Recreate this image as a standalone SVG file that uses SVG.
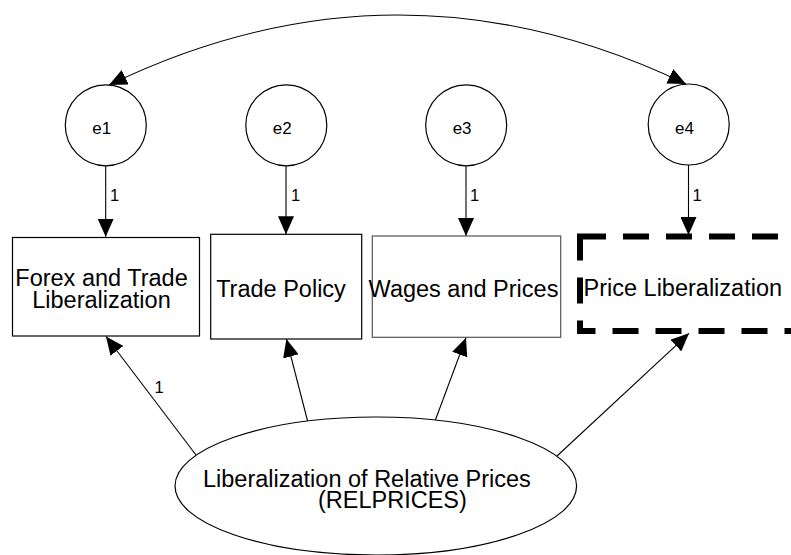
<svg xmlns="http://www.w3.org/2000/svg" width="791" height="555" viewBox="0 0 791 555">
<style>
.t{font-family:"Liberation Sans",Arial,sans-serif;fill:#000}
.box{fill:#fff;stroke:#000;stroke-width:1.2}
.circ{fill:#fff;stroke:#000;stroke-width:1.2}
.c{fill:none;stroke:#000;stroke-width:1.1}
</style>
<defs>
<marker id="ah" markerUnits="userSpaceOnUse" markerWidth="18" markerHeight="16" refX="18" refY="8" orient="auto-start-reverse" viewBox="0 0 18 16">
<path d="M0,0 L18,8 L0,16 z" fill="#000"/>
</marker>
</defs>
<rect width="791" height="555" fill="#fff"/>
<g id="connectors">
<path class="c" d="M109,85 Q397.5,-54.5 686,84" marker-start="url(#ah)" marker-end="url(#ah)"/>
<line class="c" x1="105.7" y1="166" x2="105.7" y2="236.7" marker-end="url(#ah)"/>
<line class="c" x1="286" y1="166" x2="286" y2="234.3" marker-end="url(#ah)"/>
<line class="c" x1="466" y1="166" x2="466" y2="236" marker-end="url(#ah)"/>
<line class="c" x1="688.5" y1="165" x2="688.5" y2="235" marker-end="url(#ah)"/>
<line class="c" x1="196" y1="455" x2="106" y2="336.5" marker-end="url(#ah)"/>
<line class="c" x1="307.6" y1="421" x2="286.4" y2="339" marker-end="url(#ah)"/>
<line class="c" x1="435.4" y1="420" x2="466" y2="337.7" marker-end="url(#ah)"/>
<line class="c" x1="557" y1="456" x2="689" y2="333.3" marker-end="url(#ah)"/>
<text class="t" x="114.7" y="200.7" font-size="16.5" text-anchor="middle">1</text>
<text class="t" x="295.5" y="200.7" font-size="16.5" text-anchor="middle">1</text>
<text class="t" x="474.7" y="200.7" font-size="16.5" text-anchor="middle">1</text>
<text class="t" x="697" y="200.7" font-size="16.5" text-anchor="middle">1</text>
<text class="t" x="159" y="393" font-size="16.5" text-anchor="middle">1</text>
</g>
<g id="e1">
<circle class="circ" cx="105.8" cy="125.3" r="40.5"/>
<text class="t" x="101.7" y="134" font-size="17" text-anchor="middle">e1</text>
</g>
<g id="e2">
<circle class="circ" cx="286.3" cy="125.3" r="40.5"/>
<text class="t" x="282.2" y="134" font-size="17" text-anchor="middle">e2</text>
</g>
<g id="e3">
<circle class="circ" cx="466.2" cy="125.3" r="40.5"/>
<text class="t" x="462.1" y="134" font-size="17" text-anchor="middle">e3</text>
</g>
<g id="e4">
<circle class="circ" cx="688.7" cy="124.5" r="40.5"/>
<text class="t" x="684.4" y="133.5" font-size="17" text-anchor="middle">e4</text>
</g>
<g id="forex">
<rect class="box" x="12.5" y="237.5" width="187" height="98.5"/>
<text class="t" font-size="23.5" text-anchor="middle"><tspan x="101.5" y="286">Forex and Trade</tspan><tspan x="101.5" y="307.7">Liberalization</tspan></text>
</g>
<g id="trade">
<rect class="box" x="210.7" y="234.3" width="151" height="104.7"/>
<text class="t" x="281" y="296.7" font-size="23.5" text-anchor="middle">Trade Policy</text>
</g>
<g id="wages">
<rect class="box" x="372.3" y="236" width="188.4" height="101.3" style="stroke:#555"/>
<text class="t" x="463.5" y="296.7" font-size="23.5" text-anchor="middle">Wages and Prices</text>
</g>
<g id="price">
<rect x="580" y="236.5" width="240" height="94.5" fill="none" stroke="#000" stroke-width="6" stroke-dasharray="26 17"/>
<text class="t" x="583.5" y="296" font-size="23.5">Price Liberalization</text>
</g>
<g id="relprices">
<ellipse class="circ" cx="375.8" cy="486" rx="200.8" ry="69"/>
<text class="t" font-size="23.5"><tspan x="203" y="486.7">Liberalization of Relative Prices</tspan><tspan x="318" y="507.5">(RELPRICES)</tspan></text>
</g>
</svg>
